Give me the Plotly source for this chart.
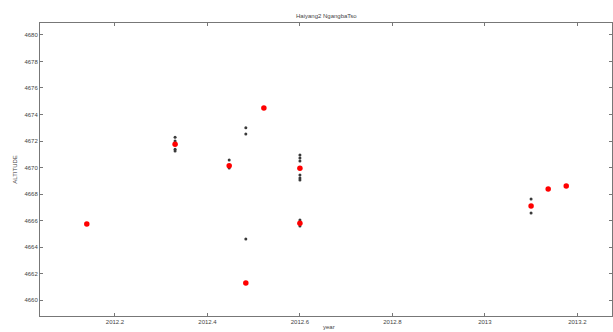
import plotly.graph_objects as go

# Mean altitude per pass (red) and individual footprint altitudes (black)
mean_year = [2012.139, 2012.330, 2012.447, 2012.483, 2012.522, 2012.600, 2012.600,
             2013.100, 2013.137, 2013.176]
mean_alt = [4665.74, 4671.75, 4670.14, 4661.28, 4674.49, 4669.94, 4665.79,
            4667.09, 4668.38, 4668.60]

obs_year = [2012.330, 2012.330, 2012.330, 2012.330,
            2012.447, 2012.447,
            2012.483, 2012.483, 2012.483,
            2012.600, 2012.600, 2012.600, 2012.600, 2012.600, 2012.600,
            2012.600, 2012.600,
            2013.100, 2013.100]
obs_alt = [4672.28, 4672.00, 4671.37, 4671.25,
           4670.57, 4669.96,
           4673.00, 4672.53, 4664.60,
           4670.94, 4670.72, 4670.49, 4669.43, 4669.21, 4669.06,
           4666.04, 4665.58,
           4667.62, 4666.57]

x_ticks = [2012.2, 2012.4, 2012.6, 2012.8, 2013.0, 2013.2]
x_tick_text = ["2012.2", "2012.4", "2012.6", "2012.8", "2013", "2013.2"]
y_ticks = list(range(4660, 4681, 2))

fig = go.Figure()
fig.add_trace(go.Scatter(
    x=obs_year, y=obs_alt, mode="markers",
    marker=dict(symbol="circle", size=3, color="#3a3a3a"),
    showlegend=False, hoverinfo="x+y"))
fig.add_trace(go.Scatter(
    x=mean_year, y=mean_alt, mode="markers",
    marker=dict(symbol="circle", size=5.5, color="#ff0000"),
    showlegend=False, hoverinfo="x+y"))

axis_common = dict(
    showline=True, linecolor="#777777", linewidth=1, mirror="ticks",
    ticks="inside", ticklen=3, tickcolor="#777777",
    showgrid=False, zeroline=False,
    tickfont=dict(family="Liberation Sans, Arial", size=6, color="#444444"),
)

fig.update_xaxes(range=[2012.0378, 2013.275], tickvals=x_ticks,
                 ticktext=x_tick_text, **axis_common)
fig.update_yaxes(range=[4658.8, 4680.9], tickvals=y_ticks, **axis_common)

label_font = dict(family="Liberation Sans, Arial", size=6, color="#444444")
fig.update_layout(
    width=613, height=332,
    margin=dict(l=40, r=1, t=23, b=16),
    paper_bgcolor="white", plot_bgcolor="white",
    annotations=[
        dict(text="Haiyang2 NgangbaTso", x=0.5, xref="paper",
             y=1.0, yref="paper", yanchor="bottom", yshift=2,
             showarrow=False, font=label_font),
        dict(text="year", x=0.505, xref="paper", y=0, yref="paper",
             yanchor="bottom", yshift=-15, borderpad=0,
             showarrow=False, font=label_font),
        dict(text="ALTITUDE", x=-0.045, xref="paper", xanchor="center",
             y=0.5, yref="paper", textangle=-90, showarrow=False,
             font=label_font),
    ],
)

fig.write_html("out.html")
